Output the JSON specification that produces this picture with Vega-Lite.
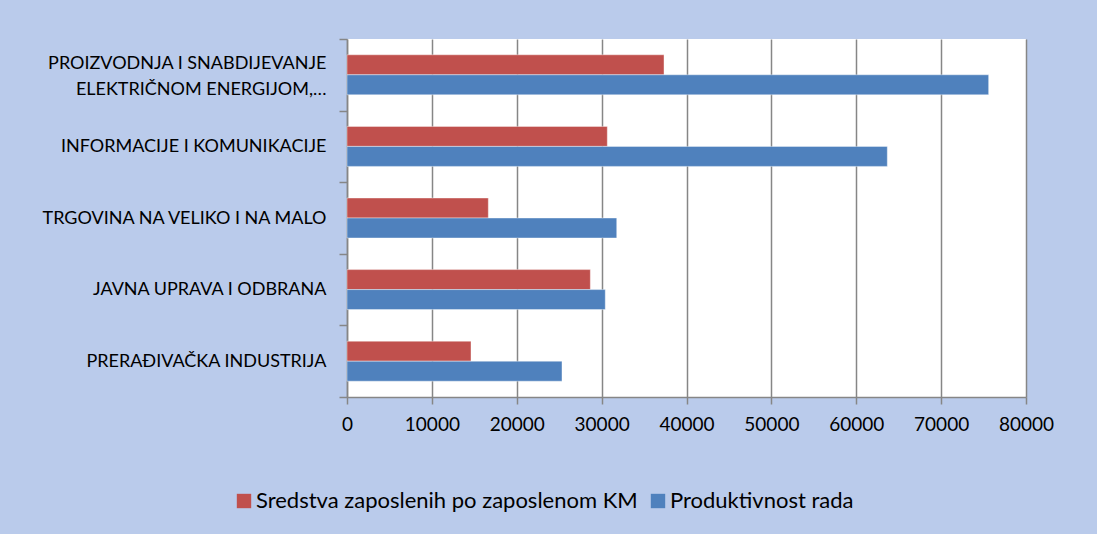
{
  "$schema": "https://vega.github.io/schema/vega-lite/v6.json",
  "width": 679,
  "height": 358,
  "autosize": {"type": "none"},
  "padding": {"left": 347, "top": 39, "right": 71, "bottom": 137},
  "background": "#BACBEB",
  "data": {
    "values": [
      {"cat": "PROIZVODNJA I SNABDIJEVANJE|ELEKTRIČNOM ENERGIJOM,…", "series": "Sredstva zaposlenih po zaposlenom KM", "value": 37350},
      {"cat": "PROIZVODNJA I SNABDIJEVANJE|ELEKTRIČNOM ENERGIJOM,…", "series": "Produktivnost rada", "value": 75600},
      {"cat": "INFORMACIJE I KOMUNIKACIJE", "series": "Sredstva zaposlenih po zaposlenom KM", "value": 30670},
      {"cat": "INFORMACIJE I KOMUNIKACIJE", "series": "Produktivnost rada", "value": 63660},
      {"cat": "TRGOVINA NA VELIKO I NA MALO", "series": "Sredstva zaposlenih po zaposlenom KM", "value": 16650},
      {"cat": "TRGOVINA NA VELIKO I NA MALO", "series": "Produktivnost rada", "value": 31780},
      {"cat": "JAVNA UPRAVA I ODBRANA", "series": "Sredstva zaposlenih po zaposlenom KM", "value": 28670},
      {"cat": "JAVNA UPRAVA I ODBRANA", "series": "Produktivnost rada", "value": 30430},
      {"cat": "PRERAĐIVAČKA INDUSTRIJA ", "series": "Sredstva zaposlenih po zaposlenom KM", "value": 14610},
      {"cat": "PRERAĐIVAČKA INDUSTRIJA ", "series": "Produktivnost rada", "value": 25330}
    ]
  },
  "config": {
    "view": {"fill": "white", "stroke": null},
    "font": "Lato"
  },
  "mark": {"type": "bar", "stroke": "#ffffff", "strokeOpacity": 0.4, "strokeWidth": 1},
  "encoding": {
    "y": {
      "field": "cat",
      "type": "nominal",
      "sort": null,
      "scale": {"paddingInner": 0, "paddingOuter": 0},
      "axis": {
        "title": null,
        "labelExpr": "isValid(datum.value) ? split(datum.value, '|') : ''",
        "labelFontSize": 18,
        "labelColor": "#000000",
        "labelLineHeight": 26,
        "labelPadding": 13,
        "labelLimit": 400,
        "labelOffset": {"condition": {"test": "isValid(datum.value) && indexof(datum.value, '|') >= 0", "value": -11}, "value": 0},
        "tickBand": "extent",
        "tickSize": 8,
        "tickColor": "#868686",
        "tickWidth": 1.5,
        "domainColor": "#868686",
        "domainWidth": 1.5,
        "grid": false
      }
    },
    "yOffset": {
      "field": "series",
      "type": "nominal",
      "sort": ["Sredstva zaposlenih po zaposlenom KM", "Produktivnost rada"],
      "scale": {"paddingInner": 0, "paddingOuter": 0.79}
    },
    "x": {
      "field": "value",
      "type": "quantitative",
      "scale": {"domain": [0, 80000], "nice": false},
      "axis": {
        "title": null,
        "values": [0, 10000, 20000, 30000, 40000, 50000, 60000, 70000, 80000],
        "format": "d",
        "labelFontSize": 19,
        "labelColor": "#000000",
        "labelPadding": 11,
        "labelFlush": false,
        "labelOverlap": false,
        "tickSize": 7,
        "tickColor": "#868686",
        "tickWidth": 1.5,
        "domainColor": "#868686",
        "domainWidth": 1.5,
        "grid": true,
        "gridColor": "#868686",
        "gridWidth": 1.5
      }
    },
    "color": {
      "field": "series",
      "type": "nominal",
      "sort": ["Sredstva zaposlenih po zaposlenom KM", "Produktivnost rada"],
      "scale": {"domain": ["Sredstva zaposlenih po zaposlenom KM", "Produktivnost rada"], "range": ["#C0504D", "#4F81BD"]},
      "legend": {
        "title": null,
        "orient": "none",
        "direction": "horizontal",
        "legendX": -114,
        "legendY": 451,
        "symbolType": "square",
        "symbolSize": 207,
        "symbolStrokeWidth": 0,
        "symbolOpacity": 1,
        "labelFontSize": 22,
        "labelColor": "#000000",
        "labelLimit": 500,
        "columnPadding": 9,
        "labelOffset": 1
      }
    }
  }
}
